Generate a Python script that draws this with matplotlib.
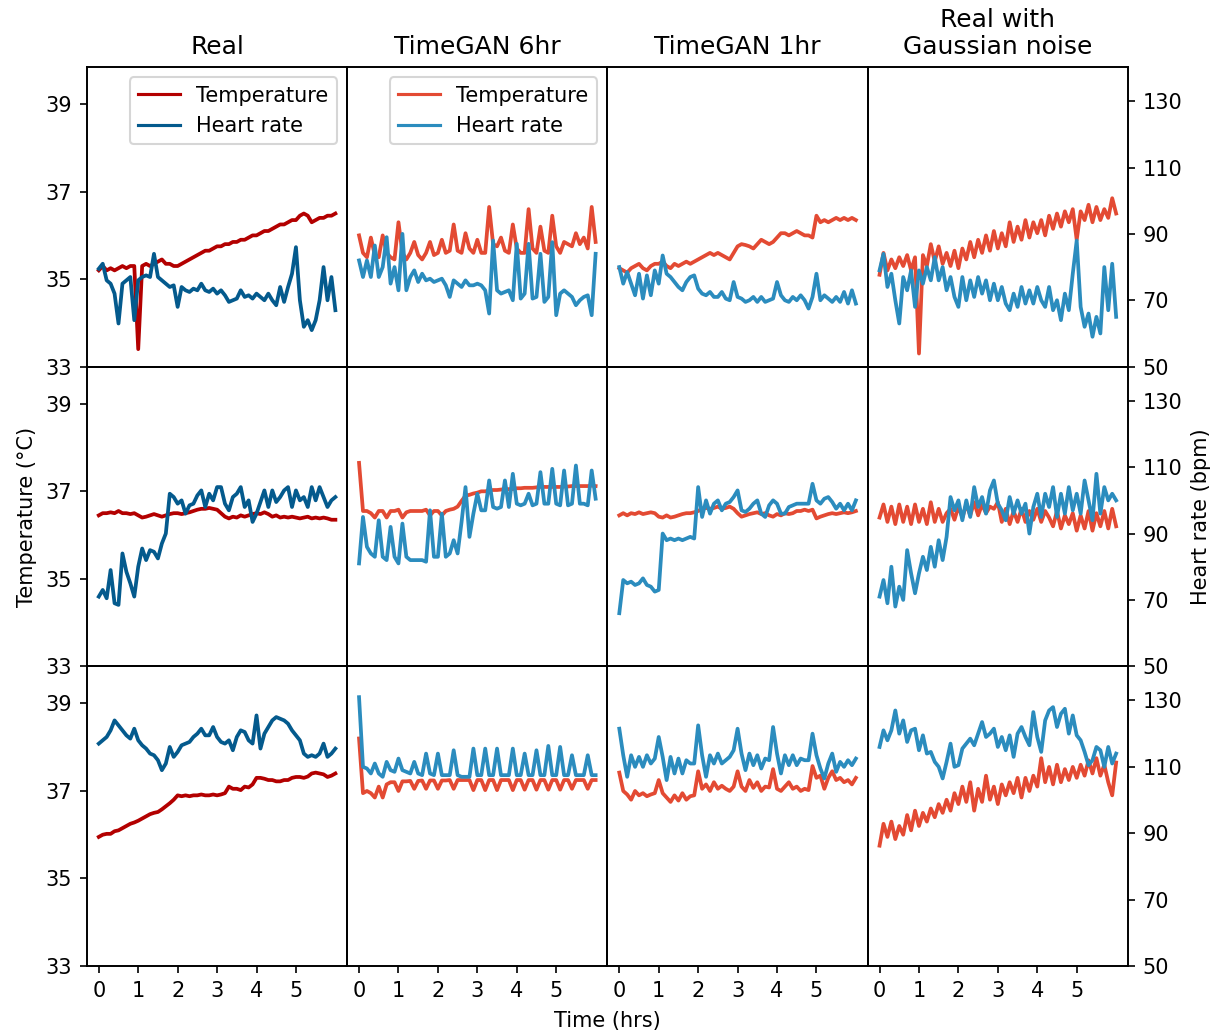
import numpy as np
import matplotlib.pyplot as plt

# time axis, samples every 6 minutes
t = np.linspace(0, 6, 61)

col_titles = ["Real", "TimeGAN 6hr", "TimeGAN 1hr", "Real with\nGaussian noise"]

# ---- row 1 ----
real_temp_1 = [35.2, 35.3, 35.2, 35.25, 35.2, 35.25, 35.3, 35.25, 35.3, 35.3,
               33.4, 35.3, 35.35, 35.3, 35.35, 35.4, 35.45, 35.35, 35.35, 35.3,
               35.3, 35.35, 35.4, 35.45, 35.5, 35.55, 35.6, 35.65, 35.65, 35.7,
               35.75, 35.75, 35.8, 35.8, 35.85, 35.85, 35.9, 35.9, 35.95, 36.0,
               36.0, 36.05, 36.1, 36.1, 36.15, 36.2, 36.25, 36.25, 36.3, 36.35,
               36.35, 36.45, 36.5, 36.45, 36.3, 36.35, 36.4, 36.4, 36.45, 36.45,
               36.5]
real_hr_1 = [79.5, 81, 76, 75, 72, 63, 75, 76, 77, 64,
             76, 77, 77.5, 77, 84, 77, 76, 75, 74, 74.5,
             68, 74, 73, 72.5, 73.5, 73, 75, 73, 72.5, 73.5,
             72, 73, 71.5, 69.5, 70, 70.5, 73, 71, 71.5, 70.5,
             72, 71, 70, 72, 70, 68.5, 74, 69.5, 74, 78,
             86, 70, 62, 64, 61, 64, 70, 80, 70, 77,
             67]
gan6_temp_1 = [36.0, 35.6, 35.5, 35.95, 35.55, 35.5, 36.0, 35.6, 35.5, 35.45,
               36.3, 35.6, 35.45, 35.6, 35.85, 35.55, 35.45, 35.6, 35.85, 35.55,
               35.6, 35.9, 35.6, 35.65, 36.25, 35.65, 35.6, 36.05, 35.7, 35.6,
               35.9, 35.6, 35.6, 36.65, 35.8, 35.75, 35.95, 35.65, 35.6, 36.25,
               35.7, 35.6, 35.6, 36.6, 35.7, 35.6, 36.2, 35.65, 35.6, 36.45,
               35.75, 35.6, 35.85, 35.8, 35.75, 36.05, 35.8, 35.95, 35.7, 36.65,
               35.85]
gan6_hr_1 = [82, 77, 82, 77, 86.5, 77, 80, 89, 75, 80,
             73, 90, 73, 77, 79, 75.5, 78, 76, 76.5, 75.5,
             76, 76.5, 74.5, 71, 76, 75, 74, 76, 74.5, 74.5,
             75, 74.5, 73, 66, 88, 73, 72, 72.5, 73, 70,
             87, 70.5, 72, 87, 70.5, 71, 84, 69.5, 71, 87.5,
             65.5, 72, 73, 72, 71, 68.5, 70, 71, 71.5, 65.5,
             84]
gan1_temp_1 = [35.25, 35.2, 35.15, 35.25, 35.3, 35.35, 35.25, 35.2, 35.3, 35.35,
               35.35, 35.4, 35.3, 35.25, 35.35, 35.3, 35.35, 35.4, 35.35, 35.4,
               35.45, 35.5, 35.55, 35.6, 35.55, 35.6, 35.55, 35.5, 35.45, 35.6,
               35.75, 35.8, 35.78, 35.75, 35.7, 35.8, 35.9, 35.85, 35.8, 35.85,
               35.95, 36.05, 36.05, 36.0, 36.05, 36.1, 36.05, 36.0, 36.0, 35.95,
               36.45, 36.3, 36.35, 36.3, 36.35, 36.4, 36.35, 36.4, 36.35, 36.4,
               36.35]
gan1_hr_1 = [80, 75, 78.5, 75, 71.5, 78, 70.5, 77.5, 71.5, 79,
             75, 83.5, 78, 77, 75.5, 74, 73, 75.5, 77, 77.5,
             73.5, 72, 71.5, 72.5, 71, 71, 72.5, 70.5, 70, 75.5,
             71, 70.5, 69.5, 70, 71, 69.5, 71, 69.5, 70, 70.5,
             75.5, 71.5, 70, 69.5, 71, 70, 71.5, 70, 67.5, 71,
             78, 70, 71.5, 70.5, 69.5, 71, 69.5, 72.5, 69, 73,
             69]
noise_temp_1 = [35.1, 35.6, 35.2, 35.45, 35.25, 35.5, 35.3, 35.55, 35.2, 35.5,
                33.3, 35.55, 35.3, 35.8, 35.4, 35.75, 35.35, 35.6, 35.3, 35.65,
                35.25, 35.7, 35.45, 35.85, 35.5, 35.9, 35.6, 36.0, 35.65, 36.1,
                35.7, 36.05, 35.75, 36.3, 35.85, 36.2, 35.9, 36.35, 35.95, 36.3,
                36.05, 36.35, 36.0, 36.45, 36.15, 36.5, 36.2, 36.55, 36.3, 36.6,
                35.9, 36.55, 36.35, 36.7, 36.3, 36.65, 36.35, 36.6, 36.4, 36.85,
                36.5]
noise_hr_1 = [79, 84, 74, 78, 70, 63, 77, 73, 79, 68,
              79, 75, 80, 76, 83, 76, 80, 73, 77, 71,
              68, 77, 70, 76, 71, 77, 72, 76, 70, 75,
              70, 74, 69, 67, 72, 68, 74, 69, 73, 69,
              74, 70, 68, 74, 67, 70, 64, 72, 67, 78,
              88, 68, 62, 66, 59, 65, 60, 80, 67, 81,
              65]

# ---- row 2 ----
real_temp_2 = [36.45, 36.5, 36.5, 36.52, 36.5, 36.55, 36.5, 36.5, 36.48, 36.5,
               36.45, 36.4, 36.42, 36.45, 36.48, 36.45, 36.42, 36.45, 36.48, 36.5,
               36.5, 36.48, 36.5, 36.52, 36.55, 36.58, 36.6, 36.6, 36.62, 36.6,
               36.58, 36.5, 36.42, 36.38, 36.42, 36.4, 36.45, 36.42, 36.45, 36.48,
               36.5, 36.48, 36.52, 36.48, 36.42, 36.45, 36.4, 36.42, 36.4, 36.42,
               36.4, 36.38, 36.4, 36.42, 36.38, 36.4, 36.38, 36.4, 36.38, 36.35,
               36.35]
real_hr_2 = [71, 73, 70.5, 79, 69, 68.5, 84, 78.5, 75, 71,
             80, 85.5, 82, 85, 84.5, 82.5, 87, 90, 102, 101,
             99, 100, 96, 98.5, 99, 101.5, 103, 98, 102, 100,
             104, 104, 99, 97, 101, 102, 104, 98, 100, 93.5,
             96, 99.5, 103, 98, 103, 99.5, 101, 103, 104, 98,
             103, 100, 101, 98, 104, 100, 104, 101, 98, 100,
             101]
gan6_temp_2 = [37.65, 36.55, 36.55, 36.5, 36.4, 36.55, 36.55, 36.4, 36.55, 36.55,
               36.58, 36.4, 36.52, 36.55, 36.55, 36.55, 36.55, 36.58, 36.45, 36.55,
               36.55, 36.45, 36.55, 36.58, 36.6, 36.65, 36.78, 36.9, 36.92, 36.95,
               36.97, 37.0, 37.0, 37.02, 37.03, 37.03, 37.04, 37.05, 37.05, 37.05,
               37.07, 37.07, 37.08, 37.08, 37.08, 37.09, 37.1, 37.1, 37.1, 37.1,
               37.1, 37.1, 37.11, 37.11, 37.12, 37.12, 37.12, 37.12, 37.12, 37.13,
               37.12]
gan6_hr_2 = [81, 95, 86, 84, 83, 94, 83, 82, 92, 83,
             81, 93, 83, 82, 82, 82, 82, 81.5, 97, 83,
             83, 96, 83, 84, 88, 84, 93.5, 104, 89, 96,
             102, 97, 97, 106, 98, 97.5, 98, 106, 98, 108,
             99, 98.5, 99, 102, 98.5, 99, 108.5, 99, 99, 109.5,
             99, 98.5, 109, 98.5, 99, 110.5, 99, 99, 98.5, 109,
             100.5]
gan1_temp_2 = [36.45, 36.5, 36.45, 36.5, 36.48, 36.52, 36.48, 36.5, 36.52, 36.5,
               36.42, 36.4, 36.45, 36.4, 36.42, 36.45, 36.48, 36.5, 36.5, 36.52,
               36.55, 36.6, 36.62, 36.6, 36.62, 36.65, 36.6, 36.62, 36.65, 36.6,
               36.5, 36.42, 36.45, 36.48, 36.5, 36.52, 36.48, 36.5, 36.45, 36.42,
               36.48, 36.45, 36.5, 36.48, 36.5, 36.55, 36.55, 36.58, 36.55, 36.58,
               36.38, 36.42, 36.45, 36.48, 36.5, 36.48, 36.5, 36.52, 36.5, 36.52,
               36.55]
gan1_hr_2 = [66, 76, 75, 75.5, 74.5, 75, 76.5, 74.5, 74, 72.5,
             73, 90, 88, 88.5, 88, 88.5, 88, 88.5, 89, 88.5,
             104, 95, 100, 96, 99, 100, 97, 99, 99.5, 101,
             103, 97, 96.5, 97.5, 99, 100, 96, 95, 98.5, 100,
             99, 96, 96, 98, 98.5, 99, 99, 99, 99, 105,
             100, 99, 100.5, 101, 99.5, 97.5, 99, 97, 99, 97,
             100]
noise_temp_2 = [36.4, 36.7, 36.3, 36.65, 36.25, 36.7, 36.3, 36.65, 36.25, 36.7,
                36.3, 36.6, 36.25, 36.75, 36.3, 36.6, 36.3, 36.5, 36.6, 36.35,
                36.65, 36.4, 36.7, 36.45, 36.75, 36.45, 36.7, 36.5, 36.65, 36.6,
                36.75, 36.3, 36.6, 36.25, 36.55, 36.3, 36.6, 36.3, 36.55, 36.35,
                36.6, 36.3, 36.55, 36.4, 36.2, 36.55, 36.15, 36.45, 36.25, 36.5,
                36.1, 36.45, 36.15, 36.55, 36.1, 36.5, 36.2, 36.55, 36.15, 36.6,
                36.2]
noise_hr_2 = [71, 76, 69, 80, 68, 74, 70, 85, 78, 72,
              78, 83, 79, 86, 80, 88, 82, 89, 101, 97,
              100, 94, 100, 95, 104, 98, 101, 96, 103, 106,
              99, 97, 94, 101, 96, 100, 96, 99, 90, 98,
              102, 95, 102, 98, 104, 95, 102, 96, 104, 97,
              102, 96, 106, 100, 94, 108, 96, 104, 100, 102,
              100]

# ---- row 3 ----
real_temp_3 = [35.95, 36.0, 36.02, 36.02, 36.08, 36.1, 36.15, 36.2, 36.25, 36.28,
               36.32, 36.37, 36.42, 36.47, 36.5, 36.52, 36.58, 36.65, 36.72, 36.8,
               36.9, 36.88, 36.9, 36.88, 36.9, 36.9, 36.92, 36.9, 36.9, 36.92,
               36.9, 36.92, 36.95, 37.1, 37.05, 37.05, 37.02, 37.1, 37.08, 37.15,
               37.3, 37.3, 37.28, 37.25, 37.25, 37.22, 37.22, 37.25, 37.25, 37.3,
               37.32, 37.32, 37.3, 37.33, 37.4, 37.42, 37.4, 37.38, 37.32, 37.35,
               37.4]
real_hr_3 = [117, 118, 119, 121, 124, 122.5, 121, 119.5, 118.5, 121.5,
             118, 116.5, 115.5, 114, 113.5, 112, 109, 111, 116, 113,
             114.5, 116.5, 117, 117.5, 119, 120, 121.5, 119.5, 119.5, 122,
             119, 117.5, 117, 118, 115, 119, 121, 120.5, 118, 117,
             125.5, 115.5, 120, 122, 124, 125, 124.5, 124, 123, 121,
             119.5, 118, 114, 113, 113.5, 113, 114, 117, 113, 114,
             115.5]
gan6_temp_3 = [38.2, 36.95, 37.0, 36.95, 36.85, 37.1, 36.85, 37.15, 37.2, 37.2,
               37.0, 37.22, 37.22, 37.23, 37.05, 37.23, 37.24, 37.05, 37.24, 37.24,
               37.05, 37.24, 37.24, 37.25, 37.05, 37.25, 37.25, 37.25, 37.25, 37.02,
               37.25, 37.25, 37.02, 37.25, 37.25, 37.02, 37.25, 37.25, 37.25, 37.02,
               37.25, 37.25, 37.03, 37.25, 37.25, 37.03, 37.25, 37.25, 37.03, 37.25,
               37.25, 37.03, 37.25, 37.25, 37.05, 37.25, 37.25, 37.25, 37.05, 37.25,
               37.25]
gan6_hr_3 = [131, 110, 109.5, 108, 111, 108, 107, 111.5, 109, 108.5,
             112.5, 109, 108.5, 108, 111.5, 108, 107.5, 114, 108, 107.5,
             114, 107.5, 107.5, 107.5, 115, 107.5, 107, 107, 107, 115.5,
             107.5, 107.5, 115.5, 107.5, 107.5, 115.5, 107.5, 107.5, 107.5, 115.5,
             107.5, 107.5, 114, 107.5, 107.5, 115, 107.5, 107.5, 116.3, 107.5,
             107.5, 116, 107.5, 107.5, 113.5, 107.5, 107.5, 107.5, 113.5, 107.5,
             107.5]
gan1_temp_3 = [37.42, 37.0, 36.92, 36.8, 37.0, 36.9, 36.95, 36.88, 36.92, 36.95,
               37.25, 36.95, 36.85, 36.75, 36.9, 36.78, 36.95, 36.8, 36.88, 36.9,
               37.45, 37.05, 37.15, 37.0, 37.2, 37.05, 37.12, 37.05, 37.0, 37.1,
               37.45, 37.1, 37.0, 37.25, 37.07, 37.2, 37.0, 37.1, 37.08, 37.5,
               37.05, 37.0, 37.1, 37.2, 37.05, 37.1, 37.0, 37.05, 37.02, 37.57,
               37.3, 37.35, 37.05, 37.3, 37.45, 37.25, 37.3, 37.2, 37.25, 37.15,
               37.3]
gan1_hr_3 = [121.5, 113.5, 107, 113.5, 110, 113, 110, 113.5, 111, 112.5,
             119, 113, 106, 113, 108, 112.5, 108, 112, 111, 111,
             122.5, 113.5, 107, 113.5, 111, 114, 111, 112, 113, 115,
             121.5, 114, 109, 114, 110.5, 113.5, 109.5, 112.5, 112, 122,
             114, 108, 113.5, 110.5, 113.5, 110.5, 112.5, 112, 112, 120,
             113.5, 109.5, 106.5, 111, 114, 108.5, 111.5, 110, 112, 110.5,
             112.5]
noise_temp_3 = [35.75, 36.25, 35.95, 36.3, 35.9, 36.2, 36.0, 36.45, 36.1, 36.55,
                36.2, 36.5, 36.3, 36.6, 36.4, 36.7, 36.5, 36.8, 36.55, 36.95,
                36.7, 37.1, 36.75, 37.2, 36.55, 37.05, 36.75, 37.35, 36.8, 37.1,
                36.7, 37.15, 36.9, 37.2, 36.95, 37.3, 36.85, 37.3, 37.0, 37.35,
                37.1, 37.75, 37.2, 37.55, 37.15, 37.6, 37.2, 37.5, 37.25, 37.55,
                37.3, 37.6, 37.35, 37.7, 37.4, 37.75, 37.35, 37.6, 37.2, 36.9,
                37.65]
noise_hr_3 = [116, 121, 118, 121, 127, 120, 124, 117.5, 121, 121.5,
              115, 119.5, 114, 114.5, 111.5, 110, 106.5, 111.5, 117, 110,
              110.5, 115.5, 117, 118.5, 116.5, 120, 123.5, 119, 120, 121.5,
              116, 119, 115, 119.5, 113, 120, 122, 119, 116.5, 126.5,
              119, 114.5, 124, 127, 128, 122, 126, 127.5, 120, 125.5,
              119.5, 118, 114.5, 110.5, 112, 116, 115, 110, 116, 111,
              114]

temp_rows = [[real_temp_1, gan6_temp_1, gan1_temp_1, noise_temp_1],
             [real_temp_2, gan6_temp_2, gan1_temp_2, noise_temp_2],
             [real_temp_3, gan6_temp_3, gan1_temp_3, noise_temp_3]]
hr_rows = [[real_hr_1, gan6_hr_1, gan1_hr_1, noise_hr_1],
           [real_hr_2, gan6_hr_2, gan1_hr_2, noise_hr_2],
           [real_hr_3, gan6_hr_3, gan1_hr_3, noise_hr_3]]

# dark colours for real data, lighter for synthetic
temp_colors = ["#b30000", "#e34a33", "#e34a33", "#e34a33"]
hr_colors = ["#045a8d", "#2b8cbe", "#2b8cbe", "#2b8cbe"]

fig, axes = plt.subplots(3, 4, figsize=(1223 / 150, 1035 / 150), dpi=150,
                         sharex=True, sharey=True)
fig.subplots_adjust(left=0.0711, right=0.9223, top=0.9353, bottom=0.0667,
                    wspace=0, hspace=0)

for r in range(3):
    for c in range(4):
        ax = axes[r, c]
        ax2 = ax.twinx()
        l1, = ax.plot(t, temp_rows[r][c], color=temp_colors[c], lw=1.8)
        l2, = ax2.plot(t, hr_rows[r][c], color=hr_colors[c], lw=1.8)

        ax.set_ylim(33, 39.85)
        ax2.set_ylim(50, 140.3)
        ax.set_yticks([33, 35, 37, 39])
        ax2.set_yticks([50, 70, 90, 110, 130])
        ax.set_xticks([0, 1, 2, 3, 4, 5])

        ax.tick_params(left=(c == 0), labelleft=(c == 0),
                       bottom=(r == 2), labelbottom=(r == 2))
        ax2.tick_params(right=(c == 3), labelright=(c == 3))

        if r == 0:
            ax.set_title(col_titles[c], fontsize=12)
            if c < 2:
                leg = ax2.legend([l1, l2], ["Temperature", "Heart rate"], loc="upper right")
                for line in leg.get_lines():
                    line.set_linewidth(1.5)
        if r == 1 and c == 0:
            ax.set_ylabel("Temperature (°C)")
        if r == 1 and c == 3:
            ax2.set_ylabel("Heart rate (bpm)")

fig.text(0.4967, 0.004, "Time (hrs)", ha="center", va="bottom", fontsize=10)

plt.savefig("out.png", dpi=150)
